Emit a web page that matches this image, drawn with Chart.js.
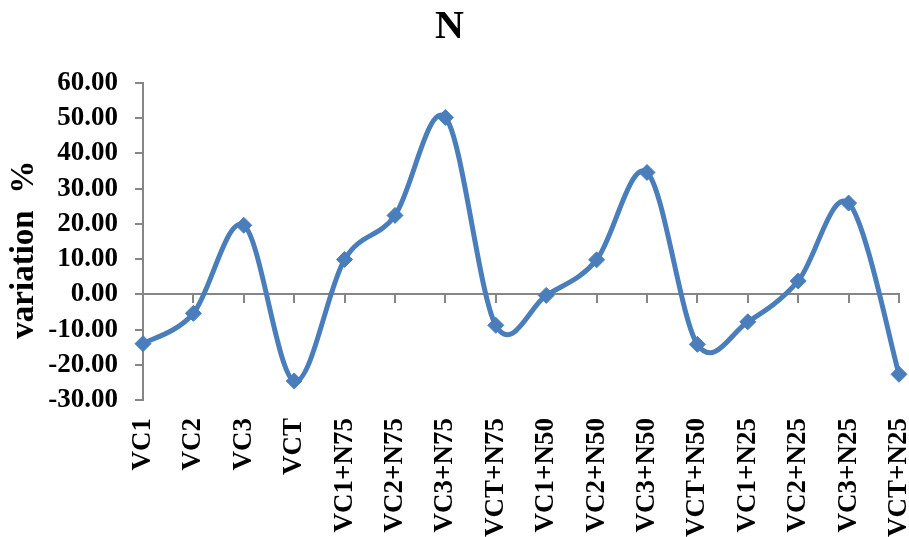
<!DOCTYPE html>
<html>
<head>
<meta charset="utf-8">
<script src="https://cdn.jsdelivr.net/npm/chart.js@4/dist/chart.umd.min.js"></script>
<style>
  html, body { margin: 0; padding: 0; background: #ffffff; }
  #wrap { width: 909px; height: 537px; position: relative; }
</style>
</head>
<body>
<div id="wrap"><canvas id="c"></canvas></div>
<script>
const categories = ["VC1","VC2","VC3","VCT","VC1+N75","VC2+N75","VC3+N75","VCT+N75","VC1+N50","VC2+N50","VC3+N50","VCT+N50","VC1+N25","VC2+N25","VC3+N25","VCT+N25"];
const variation = [-14.0,-5.4,19.6,-24.6,9.9,22.4,50.2,-8.8,-0.3,9.8,34.6,-14.2,-7.8,3.8,25.9,-22.7];
const yTicks = [-30,-20,-10,0,10,20,30,40,50,60];

const FONT = "'Liberation Serif', 'Times New Roman', serif";
const AXIS = '#868686';
const BLUE = '#4a7ebb';

// Excel-like smoothing: uniform Catmull-Rom control points on the library's own point elements
const excelSmooth = {
  id: 'excelSmooth',
  beforeDatasetsDraw(chart) {
    chart.data.datasets.forEach((ds, di) => {
      const meta = chart.getDatasetMeta(di);
      const pts = meta.data;
      const k = 1 / 6;
      for (let i = 0; i < pts.length; i++) {
        const p = pts[i];
        const prev = pts[Math.max(i - 1, 0)];
        const next = pts[Math.min(i + 1, pts.length - 1)];
        const dx = next.x - prev.x, dy = next.y - prev.y;
        p.cp1x = p.x - k * dx; p.cp1y = p.y - k * dy;
        p.cp2x = p.x + k * dx; p.cp2y = p.y + k * dy;
      }
      if (meta.dataset) {
        meta.dataset._pointsUpdated = true;
        meta.dataset._path = undefined;
      }
    });
  }
};

new Chart(document.getElementById('c'), {
  type: 'line',
  data: {
    labels: categories,
    datasets: [{
      data: variation,
      borderColor: BLUE,
      backgroundColor: BLUE,
      borderWidth: 5,
      tension: 0.4,
      pointStyle: 'rectRot',
      pointRadius: 8,
      pointHoverRadius: 8,
      pointBackgroundColor: BLUE,
      pointBorderColor: BLUE,
      pointBorderWidth: 1,
      fill: false
    }]
  },
  plugins: [excelSmooth],
  options: {
    responsive: true,
    maintainAspectRatio: false,
    animation: false,
    events: [],
    layout: { padding: 0 },
    elements: { line: { capBezierPoints: false } },
    plugins: {
      legend: { display: false },
      tooltip: { enabled: false },
      title: {
        display: true,
        text: 'N ',
        color: '#000',
        font: { family: FONT, size: 40, weight: 'bold', lineHeight: 1.2 },
        padding: { top: 4, bottom: 31 }
      }
    },
    scales: {
      x: {
        type: 'category',
        position: 'bottom',
        offset: false,
        grid: { display: false, drawTicks: false },
        border: { display: false },
        ticks: {
          color: '#000',
          font: { family: FONT, size: 27, weight: 'bold' },
          maxRotation: 90,
          minRotation: 90,
          autoSkip: false,
          padding: 18
        },
        afterFit: (s) => { s.height = 137; s.paddingRight = 10; s.paddingLeft = 0; }
      },
      x0: {
        type: 'category',
        axis: 'x',
        position: { y: 0 },
        offset: false,
        grid: { display: true, drawOnChartArea: false, drawTicks: true, tickLength: 8, color: AXIS, lineWidth: 2, offset: false },
        border: { display: true, color: AXIS, width: 2 },
        ticks: { display: false }
      },
      y: {
        type: 'linear',
        position: 'left',
        min: -30,
        max: 60,
        afterBuildTicks: (s) => { s.ticks = yTicks.map(v => ({ value: v })); },
        grid: { display: true, drawOnChartArea: false, drawTicks: true, tickLength: 8, color: AXIS, lineWidth: 2 },
        border: { display: true, color: AXIS, width: 2 },
        ticks: {
          color: '#000',
          font: { family: FONT, size: 27, weight: 'bold' },
          padding: 17,
          autoSkip: false,
          callback: (v) => Number(v).toFixed(2)
        },
        title: {
          display: true,
          text: 'variation  %  ',
          color: '#000',
          font: { family: FONT, size: 33, weight: 'bold', lineHeight: 1.2 },
          padding: { top: 5, bottom: 0 }
        },
        afterFit: (s) => { s.width = 143; }
      }
    }
  }
});
</script>
</body>
</html>
